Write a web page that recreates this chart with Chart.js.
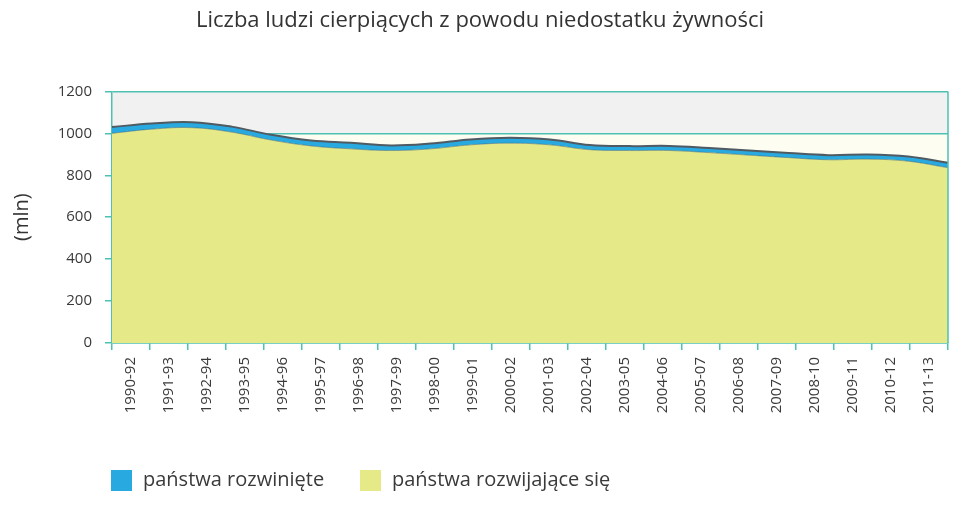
<!DOCTYPE html>
<html lang="pl">
<head>
<meta charset="utf-8">
<title>Liczba ludzi cierpiących z powodu niedostatku żywności</title>
<script src="https://cdn.jsdelivr.net/npm/chart.js@4.4.1/dist/chart.umd.min.js"></script>
<style>
  html, body { margin: 0; padding: 0; background: #fff; }
  #wrap { width: 960px; height: 505px; position: relative; }
</style>
</head>
<body>
<div id="wrap"><canvas id="hunger_chart"></canvas></div>
<script>
// okresy trzyletnie
const periods = ["1990-92", "1991-93", "1992-94", "1993-95", "1994-96", "1995-97",
    "1996-98", "1997-99", "1998-00", "1999-01", "2000-02", "2001-03", "2002-04",
    "2003-05", "2004-06", "2005-07", "2006-08", "2007-09", "2008-10", "2009-11",
    "2010-12", "2011-13"];

// mln ludzi
const developing = [1000, 1020, 1027, 1006, 968, 940, 926, 918, 926, 945, 953,
    945, 922, 918, 918, 908, 896, 884, 874, 877, 867, 836];
const developed = [30, 27, 26, 26, 25, 26, 29, 24, 25, 26, 26,
    26, 22, 21, 22, 22, 22, 22, 22, 22, 22, 24];

const yTicks = [0, 200, 400, 600, 800, 1000, 1200];

const teal = "#4fc1b2";
const fontFamily = "'Open Sans', 'Noto Sans', sans-serif";

/** tło obszaru wykresu: szary pas powyżej 1000, kremowy poniżej */
const bandsPlugin = {
    id: "bands",
    beforeDraw(chart) {
        const {ctx, chartArea: area, scales: {y}} = chart;
        ctx.save();
        ctx.fillStyle = "#f0f1f0";
        ctx.fillRect(area.left, y.getPixelForValue(1200), area.width,
            y.getPixelForValue(1000) - y.getPixelForValue(1200));
        ctx.fillStyle = "#fdfdf2";
        ctx.fillRect(area.left, y.getPixelForValue(1000), area.width,
            y.getPixelForValue(0) - y.getPixelForValue(1000));
        ctx.restore();
    },
    afterDraw(chart) {
        const {ctx, chartArea: area} = chart;
        ctx.save();
        ctx.strokeStyle = teal;
        ctx.lineWidth = 1.5;
        ctx.beginPath();
        ctx.moveTo(area.right, area.top);
        ctx.lineTo(area.right, area.bottom);
        ctx.stroke();
        ctx.restore();
    }
};

/** legenda pod wykresem, rysowana od lewej krawędzi osi */
const legendPlugin = {
    id: "bottomLegend",
    afterDraw(chart) {
        const ctx = chart.ctx;
        const items = chart.data.datasets.slice().reverse();
        const xs = [111, 360];
        const yc = 480;
        ctx.save();
        ctx.font = "20px " + fontFamily;
        ctx.textBaseline = "middle";
        items.forEach((ds, i) => {
            ctx.fillStyle = ds.backgroundColor;
            ctx.fillRect(xs[i], yc - 10, 21, 21);
            ctx.fillStyle = "#3a3a3a";
            ctx.fillText(ds.label, xs[i] + 32, yc);
        });
        ctx.restore();
    }
};

function createAreaChart(element) {
    return new Chart(element, {
        type: "line",
        data: {
            labels: periods,
            datasets: [{
                label: "państwa rozwijające się",
                data: developing,
                xAxisID: "xd",
                backgroundColor: "#e5e988",
                borderColor: "rgba(70,110,125,0.6)",
                borderWidth: 1,
                fill: "origin",
                pointRadius: 0,
                tension: 0.4
            }, {
                label: "państwa rozwinięte",
                data: developed,
                xAxisID: "xd",
                backgroundColor: "#28aae1",
                borderColor: "#4f5a62",
                borderWidth: 2,
                fill: "-1",
                pointRadius: 0,
                tension: 0.4
            }]
        },
        options: {
            responsive: true,
            maintainAspectRatio: false,
            animation: false,
            layout: {
                padding: {left: 0, right: 0, top: 0, bottom: 90}
            },
            plugins: {
                legend: {display: false},
                tooltip: {enabled: false},
                title: {
                    display: true,
                    text: "Liczba ludzi cierpiących z powodu niedostatku żywności",
                    color: "#333",
                    font: {family: fontFamily, size: 22, weight: "normal"},
                    padding: {top: 8, bottom: 57}
                }
            },
            scales: {
                xd: {
                    type: "category",
                    display: false,
                    offset: false
                },
                x: {
                    type: "category",
                    position: "bottom",
                    offset: true,
                    afterFit: scale => { scale.height = 72; },
                    grid: {
                        offset: true,
                        drawOnChartArea: false,
                        color: teal,
                        lineWidth: 1.5,
                        tickLength: 7
                    },
                    border: {color: teal, width: 1.5},
                    ticks: {
                        color: "#3a3a3a",
                        font: {family: fontFamily, size: 15},
                        minRotation: 90,
                        maxRotation: 90,
                        padding: 7,
                        autoSkip: false
                    }
                },
                y: {
                    stacked: true,
                    min: 0,
                    max: 1200,
                    z: 1,
                    afterFit: scale => { scale.width = 112; },
                    afterBuildTicks: scale => {
                        scale.ticks = yTicks.map(v => ({value: v}));
                    },
                    grid: {
                        color: teal,
                        lineWidth: 1.5,
                        tickLength: 7
                    },
                    border: {color: teal, width: 1.5},
                    ticks: {
                        color: "#3a3a3a",
                        font: {family: fontFamily, size: 15},
                        padding: 13,
                        callback: v => String(v)
                    },
                    title: {
                        display: true,
                        text: "(mln)",
                        color: "#333",
                        font: {family: fontFamily, size: 20},
                        padding: {top: 10, bottom: 0}
                    }
                },
                // pusty margines po prawej stronie obszaru wykresu
                yr: {
                    position: "right",
                    grid: {display: false},
                    border: {display: false},
                    ticks: {display: false},
                    afterFit: scale => { scale.width = 12; }
                }
            }
        },
        plugins: [bandsPlugin, legendPlugin]
    });
}

const chart = createAreaChart(document.getElementById("hunger_chart"));
</script>
</body>
</html>
